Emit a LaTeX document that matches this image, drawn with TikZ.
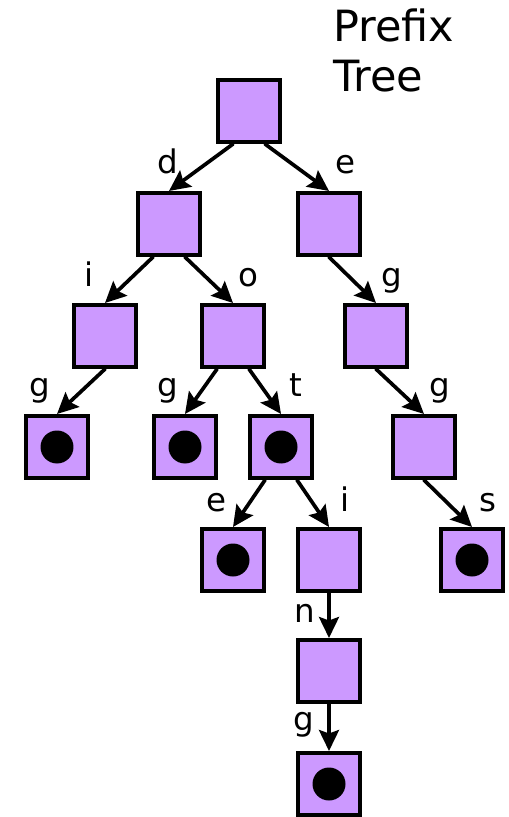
\documentclass[tikz,border=0pt]{standalone}
\usepackage{fontspec}
\setmainfont{DejaVu Sans}
\usetikzlibrary{calc}
\usetikzlibrary{arrows.meta}
\definecolor{ccqqff}{rgb}{0.8,0.6,1.}
\tikzset{
  trie/.style={draw, fill=ccqqff, line width=2.3pt, line join=miter, minimum size=1.24cm, inner sep=0pt},
  lbl/.style={anchor=base, inner sep=0pt, font=\fontsize{18.5}{22}\selectfont},
  edge/.style={->, line width=2.1pt}
}

\begin{document}
\begin{tikzpicture}[line cap=round,line join=round,>={Stealth[length=0.42cm,width=0.4cm,inset=0.07cm]},x=0.02cm,y=-0.02cm]
            \useasboundingbox (0,0) rectangle (508,817);
            \node [anchor=base west, align=left, inner sep=0pt, font=\fontsize{24.5}{28.5}\selectfont] (title) at (333,92) {Prefix\\Tree};
            % trie nodes
            \node [trie] (root) at (249,111) {};
            \node [trie] (d) at (169,224) {};
            \node [trie] (e) at (329,224) {};
            \node [trie] (di) at (105,336) {};
            \node [trie] (do) at (233,336) {};
            \node [trie] (eg) at (376,336) {};
            \node [trie] (dig) at (57,447) {};
            \node [trie] (dog) at (185,447) {};
            \node [trie] (dot) at (281,447) {};
            \node [trie] (egg) at (424,447) {};
            \node [trie] (dote) at (233,560) {};
            \node [trie] (doti) at (329,560) {};
            \node [trie] (eggs) at (472,560) {};
            \node [trie] (dotin) at (329,671) {};
            \node [trie] (doting) at (329,784) {};
            % end of word marks
            \foreach \w in {dig,dog,dot,dote,eggs,doting}
                \fill (\w) circle (0.33cm);
            % edges
            \draw [edge] ($(root.south)+(-16,0)$) -- (d.north);
            \draw [edge] ($(root.south)+(16,0)$) -- (e.north);
            \draw [edge] ($(d.south)+(-16,0)$) -- (di.north);
            \draw [edge] ($(d.south)+(16,0)$) -- (do.north);
            \draw [edge] (e.south) -- (eg.north);
            \draw [edge] (di.south) -- (dig.north);
            \draw [edge] ($(do.south)+(-16,0)$) -- (dog.north);
            \draw [edge] ($(do.south)+(16,0)$) -- (dot.north);
            \draw [edge] (eg.south) -- (egg.north);
            \draw [edge] ($(dot.south)+(-16,0)$) -- (dote.north);
            \draw [edge] ($(dot.south)+(16,0)$) -- (doti.north);
            \draw [edge] (egg.south) -- (eggs.north);
            \draw [edge] (doti.south) -- (dotin.north);
            \draw [edge] (dotin.south) -- (doting.north);
            % letters
            \node [lbl] (l-d) at (168,174) {d};
            \node [lbl] (l-e) at (345,174) {e};
            \node [lbl] (l-di) at (89,286) {i};
            \node [lbl] (l-do) at (248,286) {o};
            \node [lbl] (l-eg) at (392,286) {g};
            \node [lbl] (l-dig) at (40,396) {g};
            \node [lbl] (l-dog) at (168,396) {g};
            \node [lbl] (l-dot) at (296,396) {t};
            \node [lbl] (l-egg) at (440,396) {g};
            \node [lbl] (l-dote) at (216,511) {e};
            \node [lbl] (l-doti) at (345,511) {i};
            \node [lbl] (l-eggs) at (488,511) {s};
            \node [lbl] (l-dotin) at (305,622) {n};
            \node [lbl] (l-doting) at (304,730) {g};
\end{tikzpicture}
\end{document}
